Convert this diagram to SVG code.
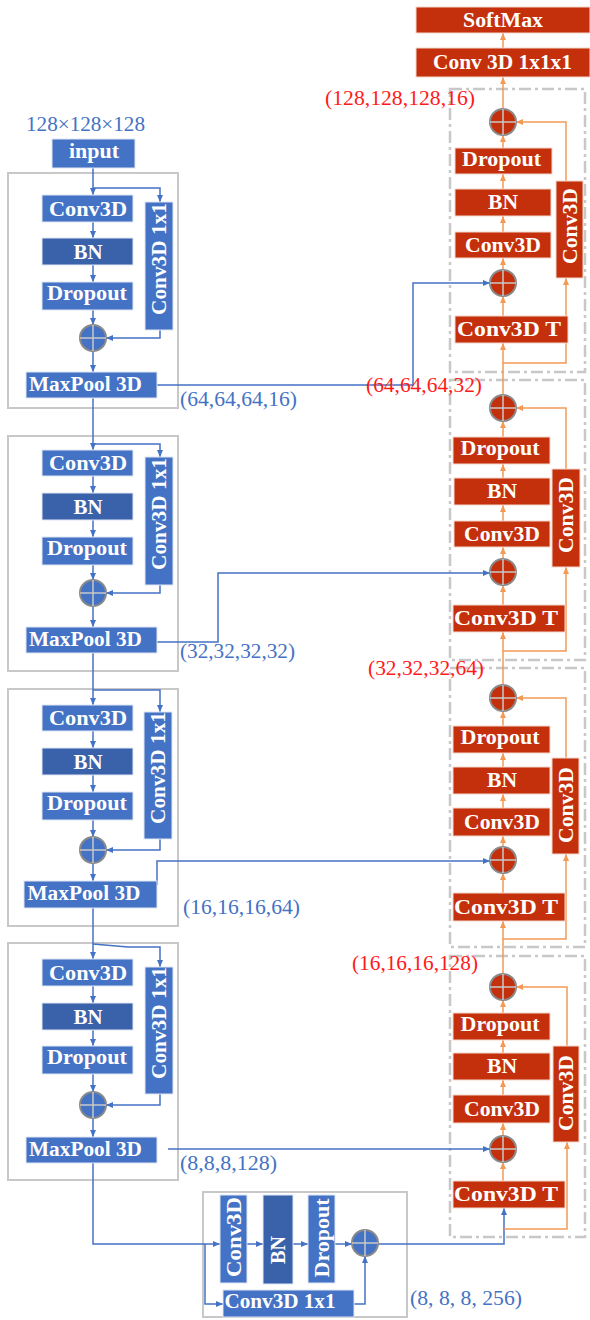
<svg xmlns="http://www.w3.org/2000/svg" width="590" height="1320" viewBox="0 0 590 1320">
<defs>
<style>
.bb{fill:#4472c4;stroke:#dfe6f3;stroke-width:1}
.bd{fill:#3a62ab;stroke:#dfe6f3;stroke-width:1}
.rb{fill:#c4300b;stroke:#f3d6cc;stroke-width:1}
.gbox{fill:#fff;stroke:#c8c8c8;stroke-width:2}
.dbox{fill:none;stroke:#c8c8c8;stroke-width:2.5;stroke-dasharray:12 4 3 4}
.t{font-family:"Liberation Serif","Times New Roman",serif;font-weight:bold;font-size:20.5px;fill:#fff;text-anchor:middle}
.lb{font-family:"Liberation Serif","Times New Roman",serif;font-size:20px;fill:#4472c4;text-anchor:middle}
.lr{font-family:"Liberation Serif","Times New Roman",serif;font-size:20px;fill:#ff1a1a;text-anchor:middle}
.cb{fill:#4472c4;stroke:#8a8a8a;stroke-width:2}
.cr{fill:#c4300b;stroke:#8a8a8a;stroke-width:2}
.x{stroke:#c8c8c8;stroke-width:1.5}
.cn path{fill:none;stroke-width:1.5}
.cn .b{stroke:#4472c4;marker-end:url(#ab)}
.cn .o{stroke:#f39a55;marker-end:url(#ao)}
</style>
<marker id="ab" markerWidth="7" markerHeight="6" refX="7" refY="3" orient="auto" markerUnits="userSpaceOnUse"><path d="M0,0 L7,3 L0,6 z" fill="#4472c4"/></marker>
<marker id="ao" markerWidth="7" markerHeight="6" refX="7" refY="3" orient="auto" markerUnits="userSpaceOnUse"><path d="M0,0 L7,3 L0,6 z" fill="#f39a55"/></marker>
</defs>
<rect width="590" height="1320" fill="#fff"/>

<!-- encoder boxes -->
<rect class="gbox" x="8" y="173" width="170" height="235"/>
<rect class="gbox" x="8" y="436" width="170" height="235"/>
<rect class="gbox" x="8" y="689" width="170" height="237"/>
<rect class="gbox" x="8" y="943" width="170" height="237"/>
<rect class="gbox" x="203" y="1192" width="204" height="125"/>
<!-- decoder dashed boxes -->
<rect class="dbox" x="450" y="89" width="135" height="283"/>
<rect class="dbox" x="450" y="380" width="135" height="280"/>
<rect class="dbox" x="450" y="668" width="135" height="279"/>
<rect class="dbox" x="450" y="956" width="135" height="281"/>

<g class="cn" id="connectors">
<!-- encoder block 1 -->
<path class="b" d="M93,168 V195"/>
<path class="b" d="M93,188 H160 V202"/>
<path class="b" d="M93,222 V238"/>
<path class="b" d="M93,265 V282"/>
<path class="b" d="M93,310 V325"/>
<path class="b" d="M93,351 V372"/>
<path class="b" d="M160,330 V338 H106"/>
<path class="b" d="M93,398 V450"/>
<path class="b" d="M157,385 H413 V283 H490"/>
<!-- encoder block 2 -->
<path class="b" d="M93,444 H160 V457"/>
<path class="b" d="M93,476 V493"/>
<path class="b" d="M93,520 V537"/>
<path class="b" d="M93,565 V580"/>
<path class="b" d="M93,606 V627"/>
<path class="b" d="M160,585 V593 H106"/>
<path class="b" d="M93,653 V705"/>
<path class="b" d="M157,642 H218 V573 H490"/>
<!-- encoder block 3 -->
<path class="b" d="M93,690 H160 V712"/>
<path class="b" d="M93,731 V748"/>
<path class="b" d="M93,775 V792"/>
<path class="b" d="M93,820 V837"/>
<path class="b" d="M93,863 V881"/>
<path class="b" d="M160,839 V850 H106"/>
<path class="b" d="M93,908 V959"/>
<path class="b" d="M157,885 V861 H490"/>
<!-- encoder block 4 -->
<path class="b" d="M93,944 L128,947 H160 V967"/>
<path class="b" d="M93,986 V1003"/>
<path class="b" d="M93,1030 V1046"/>
<path class="b" d="M93,1074 V1092"/>
<path class="b" d="M93,1118 V1137"/>
<path class="b" d="M160,1094 V1105 H106"/>
<path class="b" d="M93,1163 V1244 H220"/>
<path class="b" d="M168,1149 H490"/>
<!-- bottleneck -->
<path class="b" d="M247,1244 H263"/>
<path class="b" d="M293,1244 H308"/>
<path class="b" d="M335,1244 H352"/>
<path class="b" d="M205,1244 V1304 H223"/>
<path class="b" d="M354,1304 H365 V1256"/>
<path class="b" d="M378,1244 H504 V1208"/>
<path class="o" d="M504,1229 H567 V1142"/>
<!-- decoder block D -->
<path class="o" d="M503,1181 V1162"/>
<path class="o" d="M503,1136 V1123"/>
<path class="o" d="M503,1095 V1080"/>
<path class="o" d="M503,1053 V1040"/>
<path class="o" d="M503,1013 V1000"/>
<path class="o" d="M567,1046 V987 H516"/>
<path class="o" d="M503,974 V921"/>
<!-- decoder block C -->
<path class="o" d="M503,939 H566 V854"/>
<path class="o" d="M503,893 V873"/>
<path class="o" d="M503,847 V836"/>
<path class="o" d="M503,808 V794"/>
<path class="o" d="M503,767 V753"/>
<path class="o" d="M503,726 V711"/>
<path class="o" d="M566,758 V698 H516"/>
<path class="o" d="M503,685 V632"/>
<!-- decoder block B -->
<path class="o" d="M503,651 H566 V567"/>
<path class="o" d="M503,605 V585"/>
<path class="o" d="M503,559 V547"/>
<path class="o" d="M503,521 V505"/>
<path class="o" d="M503,478 V464"/>
<path class="o" d="M503,437 V421"/>
<path class="o" d="M566,469 V408 H516"/>
<path class="o" d="M503,395 V343"/>
<!-- decoder block A -->
<path class="o" d="M503,363 H566 V278"/>
<path class="o" d="M503,316 V296"/>
<path class="o" d="M503,270 V258"/>
<path class="o" d="M503,232 V216"/>
<path class="o" d="M503,189 V174"/>
<path class="o" d="M503,148 V135"/>
<path class="o" d="M566,181 V122 H516"/>
<path class="o" d="M503,109 V77"/>
<path class="o" d="M503,48 V33"/>
</g>

<!-- input -->
<g id="input">
<text class="lb" x="85.5" y="131" textLength="119" lengthAdjust="spacingAndGlyphs">128×128×128</text>
<rect class="bb" x="52" y="139" width="83" height="29"/>
<text class="t" x="94" y="158" textLength="50" lengthAdjust="spacingAndGlyphs">input</text>
</g>

<!-- encoder block 1 -->
<g id="enc1">
<rect class="bb" x="42" y="195" width="91" height="27"/><text class="t" x="88" y="215.5" textLength="78" lengthAdjust="spacingAndGlyphs">Conv3D</text>
<rect class="bd" x="42" y="238" width="91" height="27"/><text class="t" x="88" y="258.5" textLength="29" lengthAdjust="spacingAndGlyphs">BN</text>
<rect class="bb" x="42" y="282" width="91" height="28"/><text class="t" x="87" y="299.5" textLength="80" lengthAdjust="spacingAndGlyphs">Dropout</text>
<rect class="bb" x="145" y="202" width="28" height="128"/><text class="t" transform="translate(159,259) rotate(-90)" y="7" textLength="112" lengthAdjust="spacingAndGlyphs">Conv3D 1x1</text>
<circle class="cb" cx="93" cy="338" r="13"/><path class="x" d="M80,338 H106 M93,325 V351"/>
<rect class="bb" x="26" y="372" width="131" height="26"/><text class="t" x="85.5" y="390.5" textLength="113" lengthAdjust="spacingAndGlyphs">MaxPool 3D</text>
<text class="lb" x="238.5" y="406" textLength="117" lengthAdjust="spacingAndGlyphs">(64,64,64,16)</text>
</g>

<!-- encoder block 2 -->
<g id="enc2">
<rect class="bb" x="42" y="450" width="91" height="26"/><text class="t" x="88" y="469.5" textLength="78" lengthAdjust="spacingAndGlyphs">Conv3D</text>
<rect class="bd" x="42" y="493" width="91" height="27"/><text class="t" x="88" y="513.5" textLength="29" lengthAdjust="spacingAndGlyphs">BN</text>
<rect class="bb" x="42" y="537" width="91" height="28"/><text class="t" x="87" y="554.5" textLength="80" lengthAdjust="spacingAndGlyphs">Dropout</text>
<rect class="bb" x="145" y="457" width="28" height="128"/><text class="t" transform="translate(159,514) rotate(-90)" y="7" textLength="112" lengthAdjust="spacingAndGlyphs">Conv3D 1x1</text>
<circle class="cb" cx="93" cy="593" r="13"/><path class="x" d="M80,593 H106 M93,580 V606"/>
<rect class="bb" x="26" y="627" width="131" height="26"/><text class="t" x="85.5" y="645.5" textLength="113" lengthAdjust="spacingAndGlyphs">MaxPool 3D</text>
<text class="lb" x="237.5" y="658" textLength="115" lengthAdjust="spacingAndGlyphs">(32,32,32,32)</text>
</g>

<!-- encoder block 3 -->
<g id="enc3">
<rect class="bb" x="42" y="705" width="91" height="26"/><text class="t" x="88" y="724.5" textLength="78" lengthAdjust="spacingAndGlyphs">Conv3D</text>
<rect class="bd" x="42" y="748" width="91" height="27"/><text class="t" x="88" y="768.5" textLength="29" lengthAdjust="spacingAndGlyphs">BN</text>
<rect class="bb" x="42" y="792" width="91" height="28"/><text class="t" x="87" y="809.5" textLength="80" lengthAdjust="spacingAndGlyphs">Dropout</text>
<rect class="bb" x="144" y="712" width="28" height="127"/><text class="t" transform="translate(158,768) rotate(-90)" y="7" textLength="112" lengthAdjust="spacingAndGlyphs">Conv3D 1x1</text>
<circle class="cb" cx="93" cy="850" r="13"/><path class="x" d="M80,850 H106 M93,837 V863"/>
<rect class="bb" x="24" y="881" width="133" height="27"/><text class="t" x="84" y="899.5" textLength="113" lengthAdjust="spacingAndGlyphs">MaxPool 3D</text>
<text class="lb" x="241.5" y="914" textLength="117" lengthAdjust="spacingAndGlyphs">(16,16,16,64)</text>
</g>

<!-- encoder block 4 -->
<g id="enc4">
<rect class="bb" x="42" y="959" width="91" height="27"/><text class="t" x="88" y="979.5" textLength="78" lengthAdjust="spacingAndGlyphs">Conv3D</text>
<rect class="bd" x="42" y="1003" width="91" height="27"/><text class="t" x="88" y="1023.5" textLength="29" lengthAdjust="spacingAndGlyphs">BN</text>
<rect class="bb" x="42" y="1046" width="91" height="28"/><text class="t" x="87" y="1063.5" textLength="80" lengthAdjust="spacingAndGlyphs">Dropout</text>
<rect class="bb" x="145" y="967" width="28" height="127"/><text class="t" transform="translate(159,1023) rotate(-90)" y="7" textLength="112" lengthAdjust="spacingAndGlyphs">Conv3D 1x1</text>
<circle class="cb" cx="93" cy="1105" r="13"/><path class="x" d="M80,1105 H106 M93,1092 V1118"/>
<rect class="bb" x="26" y="1137" width="131" height="26"/><text class="t" x="85.5" y="1155.5" textLength="113" lengthAdjust="spacingAndGlyphs">MaxPool 3D</text>
<text class="lb" x="228.5" y="1170" textLength="97" lengthAdjust="spacingAndGlyphs">(8,8,8,128)</text>
</g>

<!-- bottleneck -->
<g id="bottleneck">
<rect class="bb" x="220" y="1195" width="27" height="88"/><text class="t" transform="translate(233.5,1237) rotate(-90)" y="7" textLength="80" lengthAdjust="spacingAndGlyphs">Conv3D</text>
<rect class="bd" x="263" y="1195" width="30" height="89"/><text class="t" transform="translate(278,1250) rotate(-90)" y="7" textLength="28" lengthAdjust="spacingAndGlyphs">BN</text>
<rect class="bb" x="308" y="1195" width="27" height="88"/><text class="t" transform="translate(321.5,1238) rotate(-90)" y="7" textLength="79" lengthAdjust="spacingAndGlyphs">Dropout</text>
<circle class="cb" cx="365" cy="1243" r="13"/><path class="x" d="M352,1243 H378 M365,1230 V1256"/>
<rect class="bb" x="223" y="1290" width="131" height="27"/><text class="t" x="280" y="1307.5" textLength="111" lengthAdjust="spacingAndGlyphs">Conv3D 1x1</text>
<text class="lb" x="466" y="1305" textLength="112" lengthAdjust="spacingAndGlyphs">(8, 8, 8, 256)</text>
</g>

<!-- output head -->
<g id="head">
<rect class="rb" x="416" y="7" width="174" height="26"/><text class="t" x="503" y="26.5" textLength="80" lengthAdjust="spacingAndGlyphs">SoftMax</text>
<rect class="rb" x="416" y="48" width="174" height="29"/><text class="t" x="502.5" y="68.5" textLength="139" lengthAdjust="spacingAndGlyphs">Conv 3D 1x1x1</text>
<text class="lr" x="400" y="105" textLength="150" lengthAdjust="spacingAndGlyphs">(128,128,128,16)</text>
</g>

<!-- decoder block A -->
<g id="decA">
<circle class="cr" cx="503" cy="122" r="13"/><path class="x" d="M490,122 H516 M503,109 V135"/>
<rect class="rb" x="455" y="148" width="97" height="26"/><text class="t" x="501.5" y="165.5" textLength="79" lengthAdjust="spacingAndGlyphs">Dropout</text>
<rect class="rb" x="455" y="189" width="96" height="27"/><text class="t" x="503" y="208.5" textLength="30" lengthAdjust="spacingAndGlyphs">BN</text>
<rect class="rb" x="455" y="232" width="96" height="26"/><text class="t" x="503" y="251.5" textLength="76" lengthAdjust="spacingAndGlyphs">Conv3D</text>
<circle class="cr" cx="503" cy="283" r="13"/><path class="x" d="M490,283 H516 M503,270 V296"/>
<rect class="rb" x="455" y="316" width="113" height="27"/><text class="t" x="509" y="335.5" textLength="104" lengthAdjust="spacingAndGlyphs">Conv3D T</text>
<rect class="rb" x="556" y="181" width="27" height="97"/><text class="t" transform="translate(569.5,226) rotate(-90)" y="7" textLength="76" lengthAdjust="spacingAndGlyphs">Conv3D</text>
<text class="lr" x="424" y="392" textLength="116" lengthAdjust="spacingAndGlyphs">(64,64,64,32)</text>
</g>

<!-- decoder block B -->
<g id="decB">
<circle class="cr" cx="503" cy="408" r="13"/><path class="x" d="M490,408 H516 M503,395 V421"/>
<rect class="rb" x="453" y="437" width="97" height="27"/><text class="t" x="500" y="454.5" textLength="79" lengthAdjust="spacingAndGlyphs">Dropout</text>
<rect class="rb" x="454" y="478" width="96" height="27"/><text class="t" x="502" y="497.5" textLength="30" lengthAdjust="spacingAndGlyphs">BN</text>
<rect class="rb" x="454" y="521" width="96" height="26"/><text class="t" x="502" y="540.5" textLength="76" lengthAdjust="spacingAndGlyphs">Conv3D</text>
<circle class="cr" cx="503" cy="572" r="13"/><path class="x" d="M490,572 H516 M503,559 V585"/>
<rect class="rb" x="453" y="605" width="112" height="27"/><text class="t" x="506" y="624.5" textLength="104" lengthAdjust="spacingAndGlyphs">Conv3D T</text>
<rect class="rb" x="552" y="469" width="28" height="98"/><text class="t" transform="translate(566,515) rotate(-90)" y="7" textLength="76" lengthAdjust="spacingAndGlyphs">Conv3D</text>
<text class="lr" x="426" y="675" textLength="116" lengthAdjust="spacingAndGlyphs">(32,32,32,64)</text>
</g>

<!-- decoder block C -->
<g id="decC">
<circle class="cr" cx="503" cy="698" r="13"/><path class="x" d="M490,698 H516 M503,685 V711"/>
<rect class="rb" x="453" y="726" width="97" height="27"/><text class="t" x="500" y="743.5" textLength="79" lengthAdjust="spacingAndGlyphs">Dropout</text>
<rect class="rb" x="453" y="767" width="97" height="27"/><text class="t" x="502" y="786.5" textLength="30" lengthAdjust="spacingAndGlyphs">BN</text>
<rect class="rb" x="453" y="808" width="97" height="28"/><text class="t" x="502" y="828.5" textLength="76" lengthAdjust="spacingAndGlyphs">Conv3D</text>
<circle class="cr" cx="503" cy="860" r="13"/><path class="x" d="M490,860 H516 M503,847 V873"/>
<rect class="rb" x="453" y="893" width="112" height="28"/><text class="t" x="506" y="913.5" textLength="104" lengthAdjust="spacingAndGlyphs">Conv3D T</text>
<rect class="rb" x="552" y="758" width="27" height="96"/><text class="t" transform="translate(565.5,805) rotate(-90)" y="7" textLength="76" lengthAdjust="spacingAndGlyphs">Conv3D</text>
<text class="lr" x="415" y="970" textLength="126" lengthAdjust="spacingAndGlyphs">(16,16,16,128)</text>
</g>

<!-- decoder block D -->
<g id="decD">
<circle class="cr" cx="503" cy="987" r="13"/><path class="x" d="M490,987 H516 M503,974 V1000"/>
<rect class="rb" x="453" y="1013" width="97" height="27"/><text class="t" x="500" y="1030.5" textLength="79" lengthAdjust="spacingAndGlyphs">Dropout</text>
<rect class="rb" x="453" y="1053" width="97" height="27"/><text class="t" x="502" y="1072.5" textLength="30" lengthAdjust="spacingAndGlyphs">BN</text>
<rect class="rb" x="453" y="1095" width="97" height="28"/><text class="t" x="502" y="1115.5" textLength="76" lengthAdjust="spacingAndGlyphs">Conv3D</text>
<circle class="cr" cx="503" cy="1149" r="13"/><path class="x" d="M490,1149 H516 M503,1136 V1162"/>
<rect class="rb" x="453" y="1181" width="112" height="27"/><text class="t" x="506" y="1200.5" textLength="104" lengthAdjust="spacingAndGlyphs">Conv3D T</text>
<rect class="rb" x="553" y="1046" width="26" height="96"/><text class="t" transform="translate(566,1093) rotate(-90)" y="7" textLength="76" lengthAdjust="spacingAndGlyphs">Conv3D</text>
</g>
</svg>
